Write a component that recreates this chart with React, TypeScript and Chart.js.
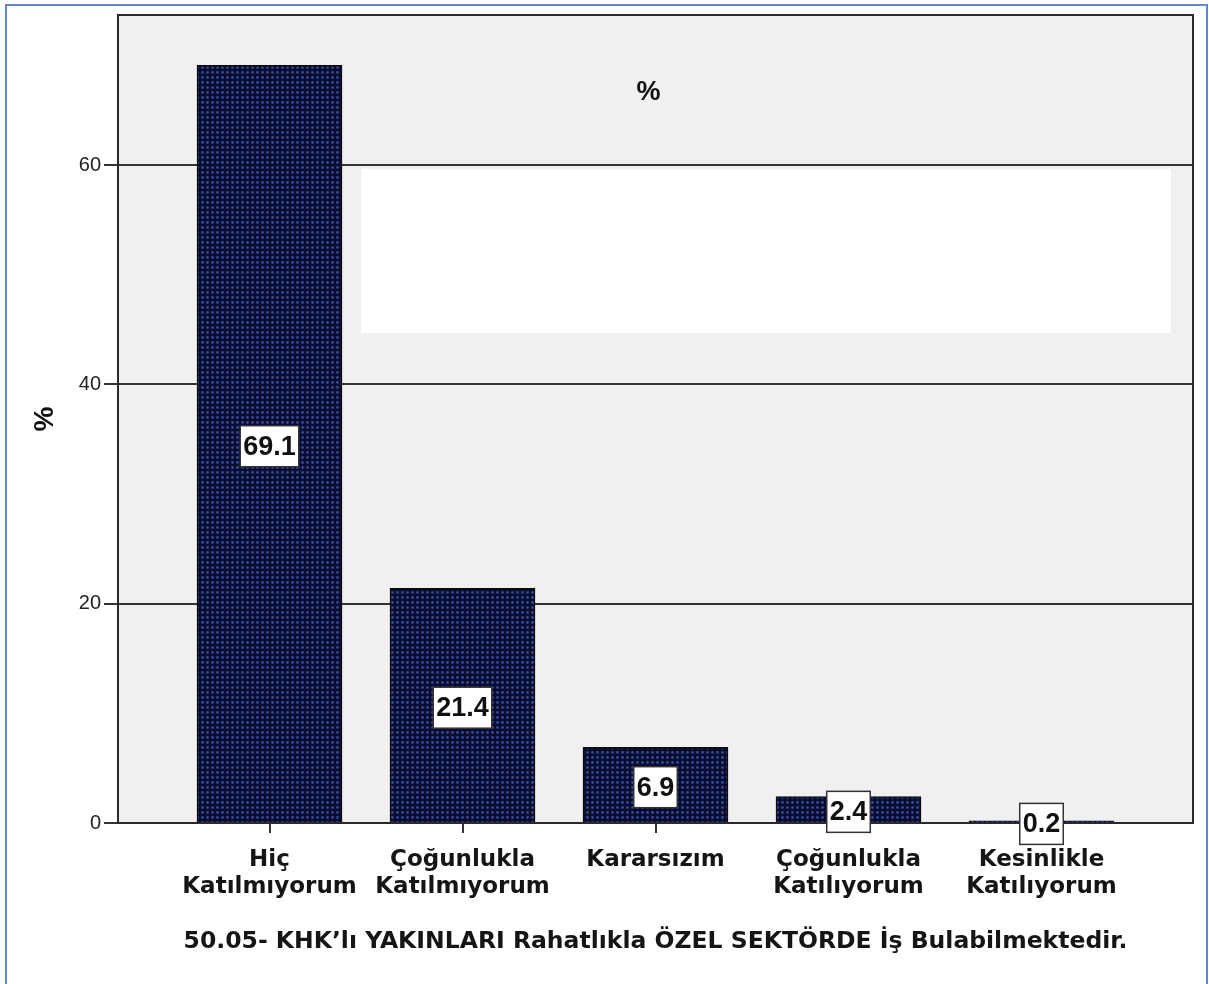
import React, { useEffect, useRef } from 'react';
import { Chart, registerables } from 'chart.js';

Chart.register(...registerables);

// ---- data ----
const categories: string[][] = [
  ['Hiç', 'Katılmıyorum'],
  ['Çoğunlukla', 'Katılmıyorum'],
  ['Kararsızım'],
  ['Çoğunlukla', 'Katılıyorum'],
  ['Kesinlikle', 'Katılıyorum'],
];
const percentValues: number[] = [69.1, 21.4, 6.9, 2.4, 0.2];
const yTickValues: number[] = [0, 20, 40, 60];
const chartTitle = '%';
const yAxisTitle = '%';
const xAxisTitle = '50.05- KHK’lı YAKINLARI Rahatlıkla ÖZEL SEKTÖRDE İş Bulabilmektedir.';

const W = 1209;
const H = 984;

function makePattern(): CanvasPattern | string {
  const tile = document.createElement('canvas');
  tile.width = 5;
  tile.height = 5;
  const t = tile.getContext('2d');
  if (!t) return '#1c2460';
  t.fillStyle = '#090c2c';
  t.fillRect(0, 0, 5, 5);
  t.fillStyle = '#34489c';
  t.beginPath();
  t.arc(2.5, 2.5, 1.45, 0, Math.PI * 2);
  t.fill();
  const p = t.createPattern(tile, 'repeat');
  return p || '#1c2460';
}

export default function App() {
  const canvasRef = useRef<HTMLCanvasElement | null>(null);

  useEffect(() => {
    const canvas = canvasRef.current;
    if (!canvas) return;
    const pattern = makePattern();

    const backgroundPlugin = {
      id: 'bgPlugin',
      beforeDraw(chart: any) {
        const { ctx, chartArea } = chart;
        ctx.save();
        ctx.fillStyle = '#ffffff';
        ctx.fillRect(0, 0, chart.width, chart.height);
        ctx.fillStyle = '#f0f0f0';
        ctx.fillRect(chartArea.left, chartArea.top, chartArea.right - chartArea.left, chartArea.bottom - chartArea.top);
        ctx.restore();
      },
      beforeDatasetsDraw(chart: any) {
        // blank (white) panel present in the original picture
        const { ctx, chartArea } = chart;
        ctx.save();
        ctx.fillStyle = '#ffffff';
        ctx.fillRect(chartArea.left + 243, chartArea.top + 154, 810, 164);
        ctx.restore();
      },
      afterDatasetsDraw(chart: any) {
        const { ctx, chartArea } = chart;
        ctx.save();
        // plot frame
        ctx.strokeStyle = '#2a2a2a';
        ctx.lineWidth = 2;
        ctx.strokeRect(chartArea.left, chartArea.top, chartArea.right - chartArea.left, chartArea.bottom - chartArea.top);
        // title inside the plot
        ctx.fillStyle = '#111';
        ctx.font = 'bold 27px "Liberation Sans", Arial, sans-serif';
        ctx.textAlign = 'center';
        ctx.textBaseline = 'middle';
        ctx.fillText(chartTitle, (chartArea.left + chartArea.right) / 2 - 7, chartArea.top + 78);

        // value labels
        const meta = chart.getDatasetMeta(0);
        const yScale = chart.scales.y;
        ctx.font = 'bold 27px "Liberation Sans", Arial, sans-serif';
        meta.data.forEach((bar: any, i: number) => {
          const v = percentValues[i];
          const txt = v.toFixed(1);
          const cx = bar.x;
          const cy = yScale.getPixelForValue(v / 2) + 2;
          const tw = ctx.measureText(txt).width;
          const bw = tw + 6;
          const bh = 41;
          ctx.fillStyle = '#ffffff';
          ctx.fillRect(cx - bw / 2, cy - bh / 2, bw, bh);
          ctx.strokeStyle = '#333';
          ctx.lineWidth = 1.5;
          ctx.strokeRect(cx - bw / 2, cy - bh / 2, bw, bh);
          ctx.fillStyle = '#111';
          ctx.fillText(txt, cx, cy + 1);
        });
        ctx.restore();
      },
    };

    const chart = new Chart(canvas, {
      type: 'bar',
      data: {
        datasets: [
          {
            data: percentValues.map((v, i) => ({ x: i, y: v })),
            backgroundColor: pattern as any,
            borderColor: '#0a0a0a',
            borderWidth: 1.5,
            barThickness: 145,
          },
        ],
      },
      options: {
        responsive: false,
        animation: false,
        layout: { padding: { top: 14, right: 16, left: 0, bottom: 0 } },
        plugins: {
          legend: { display: false },
          tooltip: { enabled: false },
          title: { display: false },
        },
        scales: {
          x: {
            type: 'linear',
            offset: false,
            min: -0.785,
            max: 4.785,
            afterBuildTicks: (scale: any) => {
              scale.ticks = categories.map((_, i) => ({ value: i }));
            },
            afterFit: (scale: any) => {
              scale.height = 161;
            },
            ticks: {
              autoSkip: false,
              maxRotation: 0,
              minRotation: 0,
              padding: 14,
              color: '#151515',
              font: { family: '"DejaVu Sans", sans-serif', weight: 'bold', size: 23, lineHeight: 1.17 },
              callback: (value: any) => categories[Math.round(Number(value))] || '',
            },
            grid: {
              offset: false,
              drawOnChartArea: false,
              drawTicks: true,
              tickLength: 10,
              color: '#333',
              lineWidth: 2,
            },
            border: { display: true, color: '#2a2a2a', width: 2 },
            title: {
              display: true,
              text: xAxisTitle,
              color: '#151515',
              font: { family: '"DejaVu Sans", sans-serif', weight: 'bold', size: 23.5 },
              padding: { top: 0, bottom: 28 },
            },
          },
          y: {
            min: 0,
            max: 73.7,
            afterBuildTicks: (scale: any) => {
              scale.ticks = yTickValues.map((v) => ({ value: v }));
            },
            afterFit: (scale: any) => {
              scale.width = 118;
            },
            ticks: {
              padding: 3,
              color: '#222',
              font: { family: '"Liberation Sans", Arial, sans-serif', size: 20 },
            },
            grid: {
              color: '#333333',
              lineWidth: 2,
              drawTicks: true,
              tickLength: 14,
            },
            border: { display: true, color: '#2a2a2a', width: 2 },
            title: {
              display: true,
              text: yAxisTitle,
              color: '#111',
              font: { family: '"Liberation Sans", Arial, sans-serif', weight: 'bold', size: 28 },
              padding: { top: 28, bottom: 0 },
            },
          },
        },
      },
      plugins: [backgroundPlugin],
    });

    return () => {
      chart.destroy();
    };
  }, []);

  return (
    <div style={{ position: 'absolute', left: 0, top: 0, width: W, height: H, background: '#fff', overflow: 'hidden' }}>
      <canvas ref={canvasRef} width={W} height={H} style={{ position: 'absolute', left: 0, top: 0 }} />
      <div
        style={{
          position: 'absolute',
          left: 5,
          top: 4,
          width: 1199,
          height: 1000,
          border: '2px solid #5a8acf',
          pointerEvents: 'none',
        }}
      />
    </div>
  );
}
